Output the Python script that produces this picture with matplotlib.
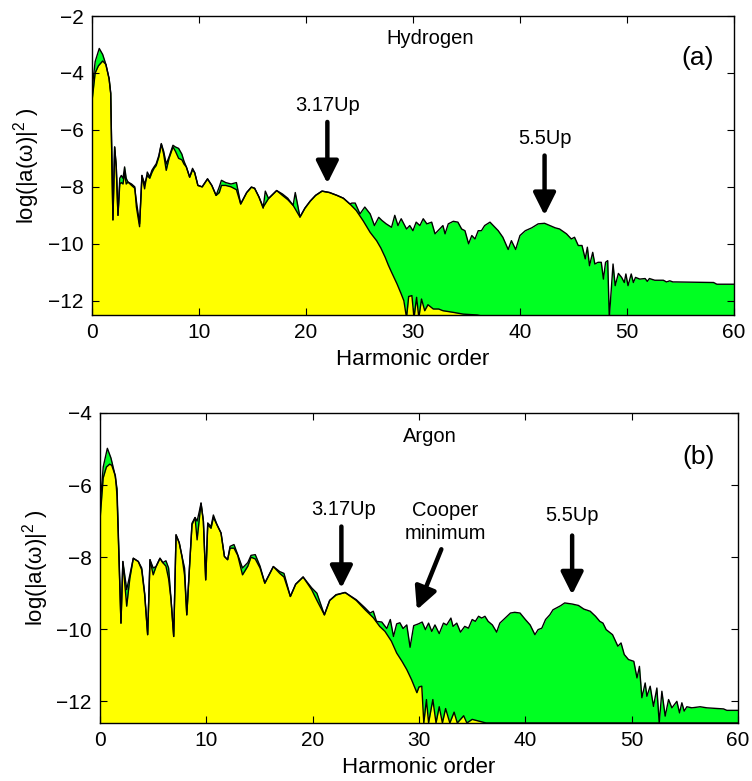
import matplotlib
matplotlib.use("Agg")
import matplotlib.pyplot as plt
import numpy as np

plt.rcParams.update({"font.family": "Liberation Sans", "font.size": 15,
                     "mathtext.fontset": "custom", "mathtext.rm": "Liberation Sans",
                     "mathtext.it": "Liberation Sans:italic",
                     "xtick.direction": "in", "ytick.direction": "in",
                     "xtick.top": True, "ytick.right": True,
                     "xtick.major.size": 5, "ytick.major.size": 5})

GREEN, YELLOW = "#00ff22", "#ffff00"
FLOOR = -13.0

# ---- hydrogen spectra: (harmonic order, log|a(w)|^2)
h_full = [(0.0, -4.6), (0.3, -3.6), (0.68, -3.14), (1.0, -3.35), (1.3, -3.7), (1.6, -4.2),
          (1.75, -4.7), (1.96, -9.16), (2.12, -6.6), (2.27, -7.3), (2.43, -9.0), (2.6, -7.7),
          (2.74, -7.6), (2.9, -7.7), (3.05, -7.3), (3.2, -7.7), (3.36, -7.83), (3.7, -7.9),
          (4.0, -8.0), (4.15, -8.7), (4.45, -9.4), (4.67, -7.6), (4.92, -8.07), (5.17, -7.48),
          (5.4, -7.65), (5.6, -7.42), (5.8, -7.3), (6.0, -7.19), (6.25, -6.9), (6.48, -6.48),
          (6.7, -6.75), (6.94, -7.2), (7.2, -6.95), (7.57, -6.54), (7.8, -6.6), (8.1, -6.65),
          (8.4, -6.85), (8.6, -7.1), (8.82, -7.3), (9.13, -7.66), (9.4, -7.35), (9.6, -7.5),
          (9.9, -7.95), (10.3, -8.0), (10.8, -7.72), (11.2, -7.95), (11.6, -8.3), (11.9, -8.0),
          (12.1, -7.77), (12.5, -7.85), (13.0, -7.9), (13.5, -7.85), (13.9, -8.6), (14.46, -8.2),
          (14.9, -8.01), (15.2, -8.05), (15.6, -8.35), (16.0, -8.75), (16.2, -8.15), (16.5, -8.41),
          (17.26, -8.13), (17.8, -8.25), (18.3, -8.4), (18.8, -8.65), (19.0, -8.2), (19.44, -9.06),
          (19.9, -8.75), (20.4, -8.5), (20.9, -8.3), (21.5, -8.15), (22.2, -8.2), (22.9, -8.3),
          (23.5, -8.4), (24.1, -8.6), (24.3, -8.57), (24.6, -8.57), (25.05, -8.95), (25.5, -8.71),
          (26.0, -8.95), (26.4, -9.36), (26.8, -9.07), (27.1, -9.18), (27.5, -9.3), (28.0, -9.42),
          (28.3, -9.0), (28.6, -9.36), (28.9, -9.12), (29.4, -9.48), (29.7, -9.36), (30.0, -9.54),
          (30.3, -9.24), (30.65, -9.36), (30.96, -9.12), (31.3, -9.3), (31.75, -9.24), (32.06, -9.65),
          (32.5, -9.48), (32.8, -9.36), (33.0, -9.65), (33.3, -9.3), (33.77, -9.21), (34.2, -9.24),
          (34.55, -9.48), (34.86, -9.54), (35.2, -10.0), (35.5, -9.71), (35.8, -9.83), (36.1, -9.54),
          (36.4, -9.54), (36.7, -9.36), (37.2, -9.24), (37.66, -9.42), (37.97, -9.54), (38.4, -9.77),
          (38.9, -10.2), (39.2, -9.89), (39.6, -10.2), (40.0, -9.71), (40.5, -9.54), (41.1, -9.44),
          (41.7, -9.3), (42.3, -9.28), (42.8, -9.36), (43.3, -9.44), (43.7, -9.48), (44.35, -9.65),
          (44.8, -9.83), (45.1, -9.77), (45.45, -10.06), (45.8, -10.06), (46.1, -10.53),
          (46.3, -10.12), (46.5, -10.77), (46.8, -10.3), (47.0, -10.71), (47.3, -10.65),
          (47.6, -10.65), (47.8, -11.24), (48.0, -10.65), (48.2, -10.59), (48.35, -12.6),
          (48.7, -10.71), (48.9, -11.47), (49.2, -11.04), (49.5, -11.18), (49.75, -11.36),
          (49.9, -11.06), (50.1, -11.47), (50.4, -11.06), (50.6, -11.36), (50.8, -11.18),
          (51.2, -11.24), (51.7, -11.22), (51.9, -11.32), (52.1, -11.22), (52.6, -11.28),
          (53.4, -11.28), (53.7, -11.34), (54.0, -11.3), (54.3, -11.34), (54.6, -11.34),
          (58.1, -11.36), (58.4, -11.42), (60.0, -11.42)]

h_short = [(0.0, -5.0), (0.3, -4.0), (0.6, -3.75), (1.0, -3.58), (1.3, -3.7), (1.6, -4.2),
           (1.75, -4.72), (1.96, -9.16), (2.12, -6.6), (2.27, -7.3), (2.43, -9.0), (2.6, -7.9),
           (2.74, -7.85), (2.9, -7.9), (3.05, -7.5), (3.2, -7.9), (3.36, -7.83), (3.7, -7.95),
           (4.0, -8.05), (4.15, -8.5), (4.45, -9.3), (4.67, -7.6), (4.92, -7.9), (5.17, -7.6),
           (5.4, -7.7), (5.6, -7.5), (5.8, -7.35), (6.0, -7.25), (6.25, -6.95), (6.48, -6.5),
           (6.7, -6.85), (6.94, -7.42), (7.2, -7.0), (7.57, -6.6), (7.8, -6.75), (8.1, -7.0),
           (8.4, -7.05), (8.6, -7.2), (8.82, -7.3), (9.13, -7.66), (9.4, -7.4), (9.6, -7.5),
           (9.9, -7.95), (10.3, -8.0), (10.8, -7.72), (11.2, -7.95), (11.6, -8.3), (11.9, -8.2),
           (12.1, -7.95), (12.5, -7.95), (13.0, -8.0), (13.5, -8.1), (13.9, -8.6), (14.46, -8.2),
           (14.9, -8.01), (15.2, -8.05), (15.6, -8.35), (16.0, -8.71), (16.5, -8.41), (17.26, -8.13),
           (17.8, -8.3), (18.3, -8.45), (18.8, -8.65), (19.44, -9.06), (19.9, -8.75), (20.4, -8.5),
           (20.9, -8.3), (21.5, -8.15), (22.2, -8.2), (22.9, -8.3), (23.5, -8.4), (24.1, -8.6),
           (24.7, -8.83), (25.36, -9.2), (26.0, -9.6), (26.6, -9.89), (27.0, -10.15), (27.4, -10.47),
           (27.7, -10.75), (28.0, -11.0), (28.5, -11.4), (28.9, -11.76), (29.15, -12.0),
           (29.4, -12.6), (29.6, -11.85), (29.9, -11.82), (30.1, -12.6), (30.34, -11.88),
           (30.55, -12.6), (30.8, -11.94), (31.1, -12.35), (31.4, -12.14), (31.9, -12.29),
           (32.4, -12.29), (32.8, -12.35), (33.8, -12.41), (34.7, -12.47), (36.0, -12.5),
           (37.2, -12.6), (60.0, -12.6)]

# ---- argon spectra
ar_full = [(0.0, -6.6), (0.3, -5.5), (0.69, -4.98), (1.03, -5.25), (1.41, -5.72), (1.6, -6.1),
           (1.97, -9.83), (2.15, -8.12), (2.51, -8.9), (2.8, -8.5), (3.13, -8.03), (3.6, -8.12),
           (3.92, -8.3), (4.2, -9.0), (4.48, -10.15), (4.7, -8.07), (5.0, -8.3), (5.27, -8.26),
           (5.64, -8.03), (5.9, -8.15), (6.2, -8.1), (6.45, -8.3), (6.68, -9.18), (6.93, -10.2),
           (7.15, -7.38), (7.45, -7.6), (7.71, -7.98), (7.95, -8.3), (8.16, -9.6), (8.4, -8.35),
           (8.65, -7.06), (8.94, -6.9), (9.13, -7.0), (9.34, -6.73), (9.5, -6.5), (9.72, -7.0),
           (9.94, -8.63), (10.13, -7.05), (10.44, -7.15), (10.66, -6.83), (11.0, -7.1),
           (11.38, -7.33), (11.7, -7.98), (12.0, -8.07), (12.23, -7.7), (12.6, -7.65),
           (12.95, -7.93), (13.4, -8.3), (13.9, -8.15), (14.2, -7.95), (14.6, -7.93),
           (15.05, -8.25), (15.5, -8.72), (16.3, -8.26), (16.9, -8.4), (17.3, -8.45),
           (17.9, -9.09), (18.4, -8.75), (19.1, -8.55), (19.9, -8.85), (20.4, -9.0), (21.1, -9.6),
           (21.6, -9.2), (22.2, -9.04), (23.05, -8.98), (24.1, -9.18), (24.9, -9.4), (25.4, -9.55),
           (25.7, -9.5), (26.0, -9.78), (26.5, -9.8), (26.97, -9.98), (27.3, -9.73), (27.6, -10.2),
           (27.9, -9.85), (28.2, -9.82), (28.5, -9.98), (28.85, -9.88), (29.16, -10.5),
           (29.5, -9.9), (29.95, -9.85), (30.3, -9.8), (30.6, -10.01), (30.9, -9.83),
           (31.2, -10.06), (31.5, -9.88), (31.9, -10.12), (32.3, -9.83), (32.6, -9.88),
           (33.0, -9.69), (33.2, -9.92), (33.55, -9.83), (33.9, -10.08), (34.3, -9.92),
           (34.65, -9.97), (35.0, -9.73), (35.3, -9.78), (35.6, -9.64), (35.9, -9.69),
           (36.2, -9.64), (36.5, -9.78), (36.9, -9.88), (37.3, -10.08), (37.6, -9.83),
           (38.1, -9.69), (38.6, -9.55), (39.0, -9.53), (39.5, -9.55), (40.0, -9.73),
           (40.45, -9.88), (40.9, -10.15), (41.2, -10.01), (41.55, -9.97), (41.9, -9.73),
           (42.3, -9.6), (42.6, -9.46), (43.3, -9.35), (43.7, -9.27), (44.4, -9.3), (45.0, -9.34),
           (45.5, -9.44), (46.1, -9.5), (46.6, -9.64), (47.0, -9.78), (47.3, -9.83),
           (47.6, -10.01), (48.2, -10.15), (48.7, -10.47), (49.0, -10.38), (49.3, -10.7),
           (49.7, -10.84), (50.2, -10.89), (50.5, -11.35), (50.73, -11.03), (50.96, -11.9),
           (51.27, -11.49), (51.43, -11.86), (51.74, -11.58), (52.05, -12.14), (52.37, -11.63),
           (52.59, -12.6), (52.84, -11.72), (53.15, -12.41), (53.47, -11.95), (53.78, -12.18),
           (54.25, -12.0), (54.5, -12.32), (54.72, -12.04), (54.94, -12.27), (55.19, -12.15),
           (55.66, -12.18), (56.44, -12.15), (57.07, -12.18), (58.64, -12.21), (58.95, -12.25),
           (60.0, -12.25)]

ar_short = [(0.0, -6.96), (0.3, -5.8), (0.6, -5.5), (0.9, -5.42), (1.1, -5.45), (1.45, -5.75),
            (1.6, -6.3), (1.97, -9.83), (2.15, -8.12), (2.51, -9.36), (2.8, -8.6), (3.13, -8.03),
            (3.6, -8.12), (3.92, -8.35), (4.2, -9.05), (4.48, -10.15), (4.7, -8.07), (5.0, -8.49),
            (5.27, -8.26), (5.64, -8.03), (5.9, -8.15), (6.2, -8.25), (6.45, -8.6), (6.68, -9.18),
            (6.93, -10.2), (7.15, -7.38), (7.45, -7.6), (7.71, -7.98), (7.95, -8.5), (8.16, -9.6),
            (8.4, -8.35), (8.65, -7.1), (8.94, -6.9), (9.13, -7.52), (9.5, -6.5), (9.72, -7.0),
            (9.94, -8.63), (10.13, -7.1), (10.44, -7.2), (10.66, -6.9), (11.0, -7.1),
            (11.38, -7.33), (11.7, -7.98), (12.0, -8.07), (12.23, -7.75), (12.6, -7.75),
            (12.95, -7.95), (13.4, -8.49), (13.9, -8.25), (14.2, -8.0), (14.6, -8.05),
            (15.05, -8.3), (15.5, -8.72), (16.3, -8.26), (16.9, -8.45), (17.3, -8.55),
            (17.9, -9.09), (18.4, -8.75), (19.1, -8.55), (19.9, -8.9), (20.4, -9.2), (21.1, -9.6),
            (21.6, -9.2), (22.2, -9.05), (23.05, -8.98), (24.1, -9.2), (24.9, -9.45),
            (25.7, -9.68), (26.3, -9.92), (26.8, -10.06), (27.4, -10.33), (27.9, -10.66),
            (28.4, -10.89), (28.85, -11.12), (29.3, -11.4), (29.8, -11.76), (30.0, -11.6),
            (30.26, -11.58), (30.45, -12.6), (30.7, -11.95), (30.9, -12.6), (31.3, -11.95),
            (31.6, -12.6), (31.9, -12.15), (32.2, -12.6), (32.5, -12.2), (32.9, -12.6),
            (33.3, -12.3), (33.6, -12.6), (34.2, -12.4), (34.5, -12.6), (35.0, -12.5),
            (36.3, -12.6), (60.0, -12.6)]


def draw_spectrum(ax, data, color):
    x, y = np.array(data).T
    ax.fill_between(x, y, FLOOR, color=color, lw=0)
    ax.plot(x, y, color="k", lw=1.0)


def arrow(ax, tip, tail):
    ax.annotate("", xy=tip, xytext=tail,
                arrowprops=dict(arrowstyle="-|>,head_length=0.9,head_width=0.45",
                                lw=3.2, color="k", shrinkA=0, shrinkB=0))


fig = plt.figure(figsize=(7.52, 7.81), dpi=100)
axA = fig.add_axes([0.1223, 0.5967, 0.8537, 0.3828])
axB = fig.add_axes([0.1330, 0.0743, 0.8484, 0.3969])

# (a) hydrogen
draw_spectrum(axA, h_full, GREEN)
draw_spectrum(axA, h_short, YELLOW)
axA.set_xlim(0, 60); axA.set_ylim(-12.5, -2)
axA.set_yticks(np.arange(-12, -1, 2))
axA.text(31.6, -2.8, "Hydrogen", ha="center", va="center", fontsize=14.5)
axA.text(56.6, -3.48, "(a)", ha="center", va="center", fontsize=19)
axA.text(22.0, -5.13, "3.17Up", ha="center", va="center", fontsize=14.5)
arrow(axA, (22.0, -7.88), (22.0, -5.72))
axA.text(42.3, -6.3, "5.5Up", ha="center", va="center", fontsize=14.5)
arrow(axA, (42.3, -9.0), (42.3, -6.9))

# (b) argon
draw_spectrum(axB, ar_full, GREEN)
draw_spectrum(axB, ar_short, YELLOW)
axB.set_xlim(0, 60); axB.set_ylim(-12.6, -4)
axB.set_yticks(np.arange(-12, -3, 2))
axB.text(31.0, -4.66, "Argon", ha="center", va="center", fontsize=14.5)
axB.text(56.3, -5.21, "(b)", ha="center", va="center", fontsize=19)
axB.text(22.9, -6.69, "3.17Up", ha="center", va="center", fontsize=14.5)
arrow(axB, (22.7, -8.86), (22.7, -7.15))
axB.text(32.45, -7.02, "Cooper\nminimum", ha="center", va="center", fontsize=14.5,
         linespacing=1.25)
arrow(axB, (29.8, -9.46), (32.1, -7.78))
axB.text(44.4, -6.85, "5.5Up", ha="center", va="center", fontsize=14.5)
arrow(axB, (44.4, -9.04), (44.4, -7.4))

for ax in (axA, axB):
    ax.set_xticks(np.arange(0, 61, 10))
    ax.set_xlabel("Harmonic order", fontsize=16, labelpad=5)
    ax.set_ylabel("log(|a(ω)|$^{2}$ )", fontsize=16, labelpad=4)
    ax.tick_params(labelsize=15, pad=6)
    for s in ax.spines.values():
        s.set_linewidth(1.0)
        s.set_zorder(5)

fig.savefig("out.png", dpi=100)
